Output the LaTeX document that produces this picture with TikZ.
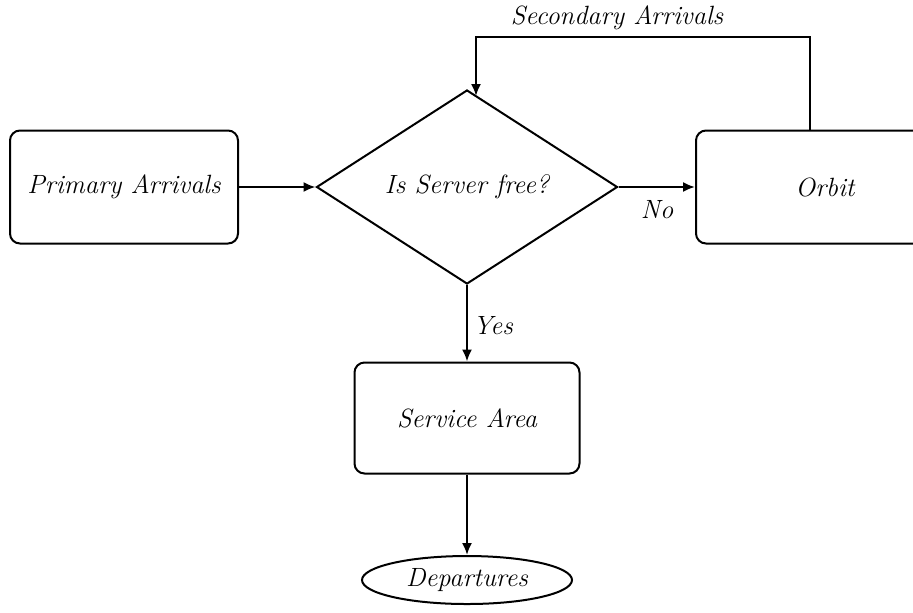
\documentclass[tikz,border=0pt]{standalone}
\usetikzlibrary{shapes.geometric,arrows.meta}
\begin{document}
\begin{tikzpicture}[x=0.5pt,y=-0.5pt,
  every node/.style={font=\fontsize{13.2}{16}\selectfont\itshape},
  box/.style={draw,line width=1pt,rounded corners=5pt,inner sep=0pt},
  dia/.style={draw,line width=1pt,diamond,inner sep=0pt,minimum width=150.5pt,minimum height=97pt},
  ell/.style={draw,line width=1pt,ellipse,inner sep=0pt,minimum width=105pt,minimum height=24pt},
  arr/.style={line width=1pt,-{Latex[length=6pt,width=5pt]}},
  lbl/.style={}]
\useasboundingbox (0,0) rectangle (913,612);
\node[box,minimum width=114pt,minimum height=56.5pt] (prim) at (124,187) {Primary Arrivals};
\node[dia] (srv) at (467,187) {Is Server free?};
\node[box,minimum width=129pt,minimum height=56.5pt] (orbit) at (825,187) {Orbit};
\node[box,minimum width=112.5pt,minimum height=55.5pt] (area) at (467,418) {Service Area};
\node[ell] (dep) at (467,580) {Departures};
\draw[arr] (prim.east) -- (srv.west);
\draw[arr] (srv.east) -- (orbit.west);
\node[lbl] (no) at (657,210) {No};
\draw[arr] (srv.south) -- (area.north);
\node[lbl] (yes) at (493,326) {Yes};
\draw[arr] (area.south) -- (dep.north);
\coordinate (up) at (810,37);
\coordinate (dn) at (476,37);
\coordinate (entry) at (476,96);
\draw[arr] (up |- orbit.north) -- (up) -- (dn) -- (entry);
\node[lbl] (sec) at (617,18) {Secondary Arrivals};
\end{tikzpicture}
\end{document}
